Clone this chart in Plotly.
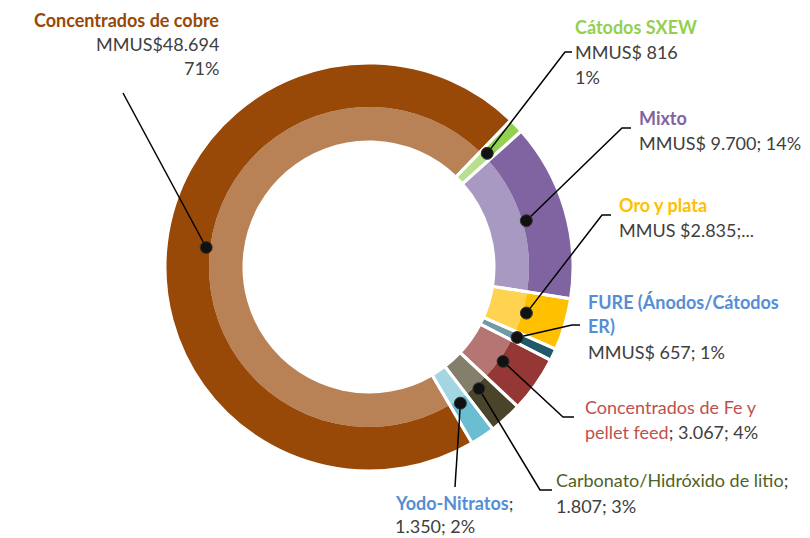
import math
import plotly.graph_objects as go

# ---------------- data ----------------
categories = ["Cátodos SXEW", "Mixto", "Oro y plata", "FURE (Ánodos/Cátodos ER)",
              "Concentrados de Fe y pellet feed", "Carbonato/Hidróxido de litio",
              "Yodo-Nitratos", "Concentrados de cobre"]
values = [816, 9700, 2835, 657, 3067, 1807, 1350, 48694]

outer_colors = ["#92D050", "#8064A2", "#FFC000", "#215968", "#953735", "#4A452A", "#6BBED2", "#984807"]
inner_colors = ["#B7DF8C", "#A899C2", "#FFD24F", "#6F9AA6", "#B57573", "#847F6B", "#A2D6E2", "#B98256"]
title_colors = ["#92D050", "#8064A2", "#FFC000", "#558ED5", "#C0504D", "#4F6228", "#558ED5", "#984807"]

W, H = 810, 538
CX, CY = 369, 267          # ring centre (px)
R_OUT, R_MID, R_HOLE = 204, 160, 125
R_DOT = 164
ROT = 44                   # start angle of first slice (deg, clockwise from 12 o'clock)
GRAY = "#404040"
FONT = "Lato"
FS = 18

total = sum(values)
def fmt(v):
    return f"{v:,}".replace(",", ".")
def pct(v):
    return f"{round(v / total * 100)}%"

# ------------- label layout (text anchor, line y's, leader elbow/end) -------------
def span(text, color, bold=False, extra=""):
    t = f"<b>{text}</b>" if bold else text
    return f"<span style='color:{color}{extra}'>{t}</span>"

v = dict(zip(categories, values))
c = dict(zip(categories, title_colors))
labels = [
    dict(cat="Concentrados de cobre", x=221, anchor="right", ys=[20, 44, 68],
         lines=[span("Concentrados de cobre", c["Concentrados de cobre"], True),
                f"MMUS${fmt(v['Concentrados de cobre'])}", pct(v['Concentrados de cobre'])],
         elbow=(123, 93), end=(123, 93)),
    dict(cat="Cátodos SXEW", x=573, anchor="left", ys=[27, 52, 77],
         lines=[span("Cátodos SXEW", c["Cátodos SXEW"], True),
                f"MMUS$ {fmt(v['Cátodos SXEW'])}", pct(v['Cátodos SXEW'])],
         elbow=(565, 52), end=(572, 52)),
    dict(cat="Mixto", x=637, anchor="left", ys=[118, 143],
         lines=[span("Mixto", c["Mixto"], True),
                f"MMUS$ {fmt(v['Mixto'])}; {pct(v['Mixto'])}"],
         elbow=(622, 128), end=(631, 128)),
    dict(cat="Oro y plata", x=617, anchor="left", ys=[205, 230],
         lines=[span("Oro y plata", c["Oro y plata"], True),
                f"MMUS ${fmt(v['Oro y plata'])};..."],
         elbow=(602, 215), end=(611, 215)),
    dict(cat="FURE (Ánodos/Cátodos ER)", x=586, anchor="left", ys=[302, 326, 352],
         lines=[span("FURE (Ánodos/Cátodos", c["FURE (Ánodos/Cátodos ER)"], True),
                span("ER)", c["FURE (Ánodos/Cátodos ER)"], True),
                f"MMUS$ {fmt(v['FURE (Ánodos/Cátodos ER)'])}; {pct(v['FURE (Ánodos/Cátodos ER)'])}"],
         elbow=(572, 325), end=(580, 325)),
    dict(cat="Concentrados de Fe y pellet feed", x=583, anchor="left", ys=[407, 432],
         lines=[span("Concentrados de Fe y", c["Concentrados de Fe y pellet feed"]),
                span("pellet feed", c["Concentrados de Fe y pellet feed"]) +
                f"; {fmt(v['Concentrados de Fe y pellet feed'])}; {pct(v['Concentrados de Fe y pellet feed'])}"],
         elbow=(563, 417), end=(574, 417)),
    dict(cat="Carbonato/Hidróxido de litio", x=554, anchor="left", ys=[480, 506],
         lines=[span("Carbonato/Hidróxido de litio", c["Carbonato/Hidróxido de litio"]) + ";",
                f"{fmt(v['Carbonato/Hidróxido de litio'])}; {pct(v['Carbonato/Hidróxido de litio'])}"],
         elbow=(540, 490), end=(552, 490)),
    dict(cat="Yodo-Nitratos", x=393, anchor="left", ys=[503, 526],
         lines=[span("Yodo-Nitratos", c["Yodo-Nitratos"], True) + ";",
                f"{fmt(v['Yodo-Nitratos'])}; {pct(v['Yodo-Nitratos'])}"],
         elbow=(455, 487), end=(455, 487)),
]

# ------------- figure -------------
def dom(r):
    return dict(x=[(CX - r) / W, (CX + r) / W], y=[(H - CY - r) / H, (H - CY + r) / H])

fig = go.Figure()
fig.add_trace(go.Scatter(x=[], y=[], showlegend=False, hoverinfo="skip"))
common = dict(labels=categories, values=values, sort=False, direction="clockwise",
              rotation=ROT, textinfo="none", showlegend=False)
fig.add_trace(go.Pie(**common, domain=dom(R_MID), hole=R_HOLE / R_MID,
                     marker=dict(colors=inner_colors, line=dict(width=0))))
fig.add_trace(go.Pie(**common, domain=dom(R_OUT), hole=R_MID / R_OUT,
                     marker=dict(colors=outer_colors, line=dict(width=0))))
fig.add_trace(go.Pie(**common, domain=dom(R_OUT), hole=R_HOLE / R_OUT, hoverinfo="skip",
                     marker=dict(colors=["rgba(0,0,0,0)"] * len(values),
                                 line=dict(color="white", width=3))))

# leader lines + dots, dot at slice mid-angle
cum = 0
mid_angle = {}
for cat, val in zip(categories, values):
    mid_angle[cat] = ROT + (cum + val / 2) / total * 360
    cum += val

shapes = []
annotations = []
for lab in labels:
    a = math.radians(mid_angle[lab["cat"]])
    dx, dy = CX + R_DOT * math.sin(a), CY - R_DOT * math.cos(a)
    ex, ey = lab["elbow"]
    fx, fy = lab["end"]
    shapes.append(dict(type="path", xref="x", yref="y", layer="above",
                       path=f"M {dx:.1f} {dy:.1f} L {ex} {ey} L {fx} {fy}",
                       line=dict(color="black", width=1.5)))
    rr = 6
    shapes.append(dict(type="circle", xref="x", yref="y", layer="above",
                       x0=dx - rr, x1=dx + rr, y0=dy - rr, y1=dy + rr,
                       fillcolor="#111111", line=dict(color="#333333", width=1)))
    for text, y in zip(lab["lines"], lab["ys"]):
        annotations.append(dict(x=lab["x"], y=y, xref="x", yref="y", text=text,
                                showarrow=False, xanchor=lab["anchor"], yanchor="middle",
                                align=lab["anchor"],
                                font=dict(family=FONT, size=FS, color=GRAY)))

fig.update_layout(
    width=W, height=H, margin=dict(l=0, r=0, t=0, b=0),
    paper_bgcolor="white", plot_bgcolor="white",
    xaxis=dict(range=[0, W], visible=False, fixedrange=True, domain=[0, 1]),
    yaxis=dict(range=[H, 0], visible=False, fixedrange=True, domain=[0, 1]),
    shapes=shapes, annotations=annotations, showlegend=False,
)
fig.write_html("out.html", config={"displayModeBar": False},
               post_script="document.body.style.margin='0';document.body.style.overflow='hidden';")
